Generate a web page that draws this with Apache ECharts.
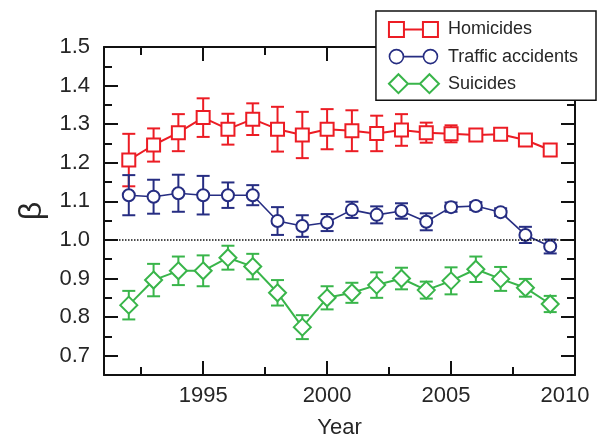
<!DOCTYPE html>
<html>
<head>
<meta charset="utf-8">
<script src="https://cdn.jsdelivr.net/npm/echarts@6/dist/echarts.min.js"></script>
<style>
html,body{margin:0;padding:0;background:#fff;}
#chart{width:597px;height:439px;}
</style>
</head>
<body>
<div id="chart"></div>
<script>
const YEARS = [1992,1993,1994,1995,1996,1997,1998,1999,2000,2001,2002,2003,2004,2005,2006,2007,2008,2009];
const HOMICIDES = [1.207,1.246,1.278,1.317,1.287,1.313,1.287,1.272,1.287,1.283,1.276,1.285,1.278,1.275,1.272,1.274,1.259,1.233];
const HOMICIDES_ERR = [0.068,0.043,0.048,0.050,0.040,0.041,0.058,0.060,0.052,0.053,0.046,0.041,0.026,0.022,0.010,0.008,0.008,0.008];
const TRAFFIC = [1.116,1.112,1.121,1.116,1.116,1.116,1.049,1.036,1.045,1.078,1.065,1.075,1.047,1.085,1.088,1.072,1.013,0.983];
const TRAFFIC_ERR = [0.052,0.044,0.048,0.050,0.033,0.026,0.036,0.028,0.022,0.021,0.022,0.020,0.022,0.012,0.010,0.010,0.021,0.018];
const SUICIDES = [0.831,0.896,0.920,0.920,0.954,0.931,0.863,0.774,0.850,0.863,0.883,0.900,0.870,0.894,0.924,0.899,0.876,0.834];
const SUICIDES_ERR = [0.037,0.042,0.037,0.040,0.031,0.033,0.033,0.031,0.030,0.026,0.033,0.028,0.022,0.035,0.033,0.031,0.023,0.021];
const SERIES_NAMES = ['Homicides','Traffic accidents','Suicides'];
const REFERENCE_LEVEL = 1.0;

const RED = '#ec1c24', BLUE = '#262d82', GREEN = '#39b54a';
const FONT = 'Liberation Sans, Arial, sans-serif';
const TXT = '#262626';

const chart = echarts.init(document.getElementById('chart'), null, {renderer:'canvas'});

function errorSeries(name, vals, errs, color, extra) {
  return Object.assign({
    type: 'custom',
    name: name + ' err',
    xAxisIndex: 0, yAxisIndex: 0,
    silent: true,
    z: 1,
    encode: {x: 0, y: [1, 2]},
    data: YEARS.map((y, i) => [y, vals[i] - errs[i], vals[i] + errs[i]]),
    renderItem: function (params, api) {
      const x = api.value(0);
      const lo = api.coord([x, api.value(1)]);
      const hi = api.coord([x, api.value(2)]);
      const half = 6.5;
      const style = {stroke: color, lineWidth: 2, fill: null};
      return {type: 'group', children: [
        {type: 'line', shape: {x1: lo[0], y1: lo[1], x2: hi[0], y2: hi[1]}, style: style},
        {type: 'line', shape: {x1: lo[0] - half, y1: lo[1], x2: lo[0] + half, y2: lo[1]}, style: style},
        {type: 'line', shape: {x1: hi[0] - half, y1: hi[1], x2: hi[0] + half, y2: hi[1]}, style: style}
      ]};
    }
  }, extra || {});
}

function lineSeries(name, vals, color, symbol, size, lw) {
  return {
    type: 'line', name: name, xAxisIndex: 0, yAxisIndex: 0,
    data: YEARS.map((y, i) => [y, vals[i]]),
    symbol: symbol, symbolSize: size, showAllSymbol: true,
    lineStyle: {color: color, width: lw},
    itemStyle: {color: color, borderColor: color, borderWidth: 2},
    z: 3, silent: true, animation: false
  };
}

const axisCommon = {
  axisLine: {show: true, onZero: false, lineStyle: {color: '#111', width: 2}},
  axisTick: {show: true, inside: true, length: 14, lineStyle: {color: '#111', width: 2}},
  minorTick: {show: true, splitNumber: 2, length: 8, lineStyle: {color: '#111', width: 2}},
  splitLine: {show: false}
};

const PAD = 'M0,0M53,19';
const ICON_SQ = 'path://' + PAD + 'M0,2h15v15h-15zM15,9.5h19M34,2h15v15h-15z';
const ICON_CI = 'path://' + PAD + 'M0.5,9.5a7,7 0 1,0 14,0a7,7 0 1,0 -14,0M14.5,9.5h20M34.5,9.5a7,7 0 1,0 14,0a7,7 0 1,0 -14,0';
const ICON_DI = 'path://' + PAD + 'M0,9.5L9.5,0L19,9.5L9.5,19zM19,9.5h12M31,9.5L40.5,0L50,9.5L40.5,19z';

const option = {
  animation: false,
  backgroundColor: '#fff',
  grid: {left: 104, right: 22, top: 47, bottom: 64, containLabel: false, outerBoundsMode: 'none'},
  legend: {
    orient: 'vertical', right: 1, top: 11,
    padding: [8, 18, 6, 12], itemGap: 6.3, itemWidth: 55, itemHeight: 19,
    backgroundColor: '#fff', borderColor: '#111', borderWidth: 1.5, borderRadius: 0,
    textStyle: {fontSize: 18, color: TXT, fontFamily: FONT, lineHeight: 19},
    selectedMode: false,
    data: [
      {name: SERIES_NAMES[0], icon: ICON_SQ, itemStyle: {color: '#fff', borderColor: RED, borderWidth: 2}},
      {name: SERIES_NAMES[1], icon: ICON_CI, itemStyle: {color: '#fff', borderColor: BLUE, borderWidth: 1.6}},
      {name: SERIES_NAMES[2], icon: ICON_DI, itemStyle: {color: '#fff', borderColor: GREEN, borderWidth: 2}}
    ]
  },
  xAxis: [
    Object.assign({
      type: 'value', min: 1991, max: 2010, splitNumber: 4, position: 'bottom',
      axisLabel: {
        showMinLabel: false, fontSize: 22, color: TXT, fontFamily: FONT, margin: 10,
        formatter: function (v) {
          if (v === 2010) return '{r|' + v + '}';
          if (v === 2005) return '{q|' + v + '}';
          return String(v);
        },
        rich: {
          r: {fontSize: 22, color: TXT, fontFamily: FONT, padding: [0, 20, 0, 0]},
          q: {fontSize: 22, color: TXT, fontFamily: FONT, padding: [0, 10, 0, 0]}
        }
      },
      name: 'Year', nameLocation: 'middle', nameGap: 42,
      nameTextStyle: {fontSize: 22, color: TXT, fontFamily: FONT}
    }, axisCommon),
    Object.assign({
      type: 'value', min: 1991, max: 2010, splitNumber: 4, position: 'top',
      axisLabel: {show: false}
    }, axisCommon)
  ],
  yAxis: [
    Object.assign({
      type: 'value', min: 0.65, max: 1.5, splitNumber: 8, position: 'left',
      axisLabel: {showMinLabel: false, fontSize: 22, color: TXT, fontFamily: FONT, margin: 14,
        formatter: function (v) { return v.toFixed(1); }},
      name: 'β', nameLocation: 'middle', nameGap: 56, nameRotate: 90,
      nameTextStyle: {fontSize: 32, color: TXT, fontFamily: FONT}
    }, axisCommon),
    Object.assign({
      type: 'value', min: 0.65, max: 1.5, splitNumber: 8, position: 'right',
      axisLabel: {show: false}
    }, axisCommon)
  ],
  series: [
    errorSeries(SERIES_NAMES[0], HOMICIDES, HOMICIDES_ERR, RED),
    errorSeries(SERIES_NAMES[1], TRAFFIC, TRAFFIC_ERR, BLUE, {
      markLine: {
        silent: true, symbol: ['none', 'none'], label: {show: false},
        lineStyle: {color: '#111', type: 'dotted', width: 1.5},
        data: [{yAxis: REFERENCE_LEVEL}]
      }
    }),
    errorSeries(SERIES_NAMES[2], SUICIDES, SUICIDES_ERR, GREEN),
    lineSeries(SERIES_NAMES[0], HOMICIDES, RED, 'emptyRect', 13, 2),
    lineSeries(SERIES_NAMES[1], TRAFFIC, BLUE, 'emptyCircle', 12, 1.6),
    lineSeries(SERIES_NAMES[2], SUICIDES, GREEN, 'emptyDiamond', 17, 2)
  ]
};
chart.setOption(option);
</script>
</body>
</html>
